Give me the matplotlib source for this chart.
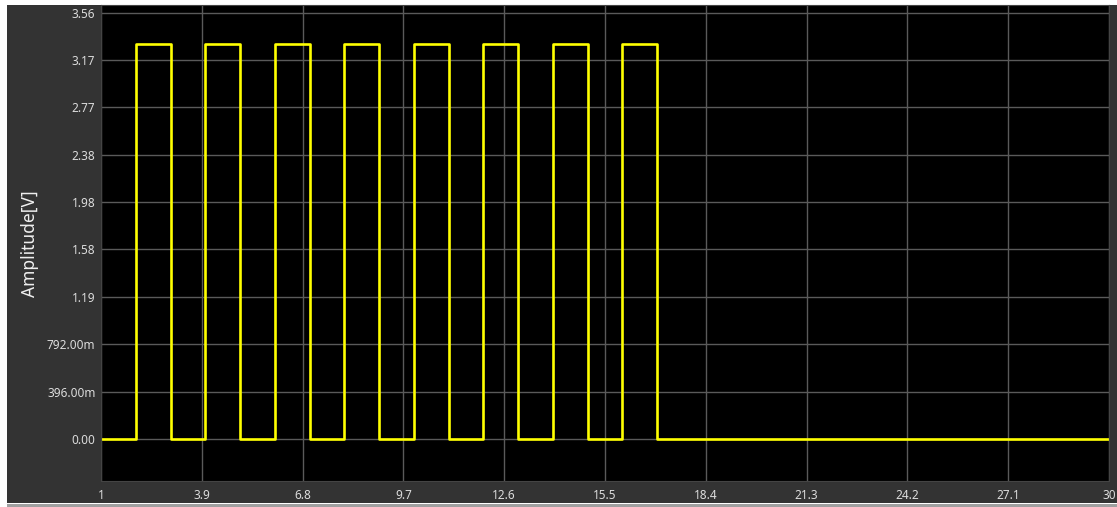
import matplotlib
matplotlib.use('Agg')
import matplotlib.pyplot as plt
from matplotlib.patches import Rectangle

# sample times and levels of the logic signal (held until the next sample)
t = [1, 2, 3, 4, 5, 6, 7, 8, 9, 10, 11, 12, 13, 14, 15,
     16, 17, 18, 19, 20, 21, 22, 23, 24, 25, 26, 27, 28, 29, 30]
amp = [0, 3.3, 0, 3.3, 0, 3.3, 0, 3.3, 0, 3.3, 0, 3.3, 0, 3.3, 0,
       3.3, 0, 0, 0, 0, 0, 0, 0, 0, 0, 0, 0, 0, 0, 0]

xticks = [1, 3.9, 6.8, 9.7, 12.6, 15.5, 18.4, 21.3, 24.2, 27.1, 30]
xlabels = ['1', '3.9', '6.8', '9.7', '12.6', '15.5', '18.4', '21.3', '24.2', '27.1', '30']
yticks = [0, 0.396, 0.792, 1.188, 1.584, 1.98, 2.376, 2.772, 3.168, 3.564]
ylabels = ['0.00', '396.00m', '792.00m', '1.19', '1.58', '1.98', '2.38', '2.77', '3.17', '3.56']

plt.rcParams['font.family'] = ['Noto Sans', 'DejaVu Sans']

W, H = 1117, 507
fig = plt.figure(figsize=(W / 100, H / 100), dpi=100, facecolor='white')
# dark panel behind the plot
fig.patches.append(Rectangle((7 / W, 4 / H), (W - 7) / W, (H - 9) / H,
                             transform=fig.transFigure, facecolor='#333333',
                             edgecolor='none', zorder=-10))
fig.patches.append(Rectangle((7 / W, 0), (W - 7) / W, 3 / H,
                             transform=fig.transFigure, facecolor='#a0a0a0',
                             edgecolor='none', zorder=-10))

ax = fig.add_axes([101 / W, (H - 481) / H, (1109 - 101) / W, (481 - 5) / H])
ax.set_zorder(5)
ax.set_facecolor('black')
ax.plot(t, amp, drawstyle='steps-post', color='#ffff00', lw=1.9)

ax.set_xlim(1, 30)
ax.set_ylim(-0.351, 3.627)
ax.set_xticks(xticks)
ax.set_xticklabels(xlabels)
ax.set_yticks(yticks)
ax.set_yticklabels(ylabels)
ax.tick_params(length=0, colors='#dcdcdc', labelsize=8.5)
ax.tick_params(axis='x', pad=6)
ax.tick_params(axis='y', pad=4)
ax.grid(True, color='#5a5a5a', lw=1)
ax.set_axisbelow(True)
for s in ax.spines.values():
    s.set_color('#444444')

fig.text(30 / W, 0.52, 'Amplitude[V]', rotation=90, color='#f0f0f0',
         fontsize=12.5, ha='center', va='center', zorder=6)

fig.savefig('out.png', dpi=100, facecolor=fig.get_facecolor())
